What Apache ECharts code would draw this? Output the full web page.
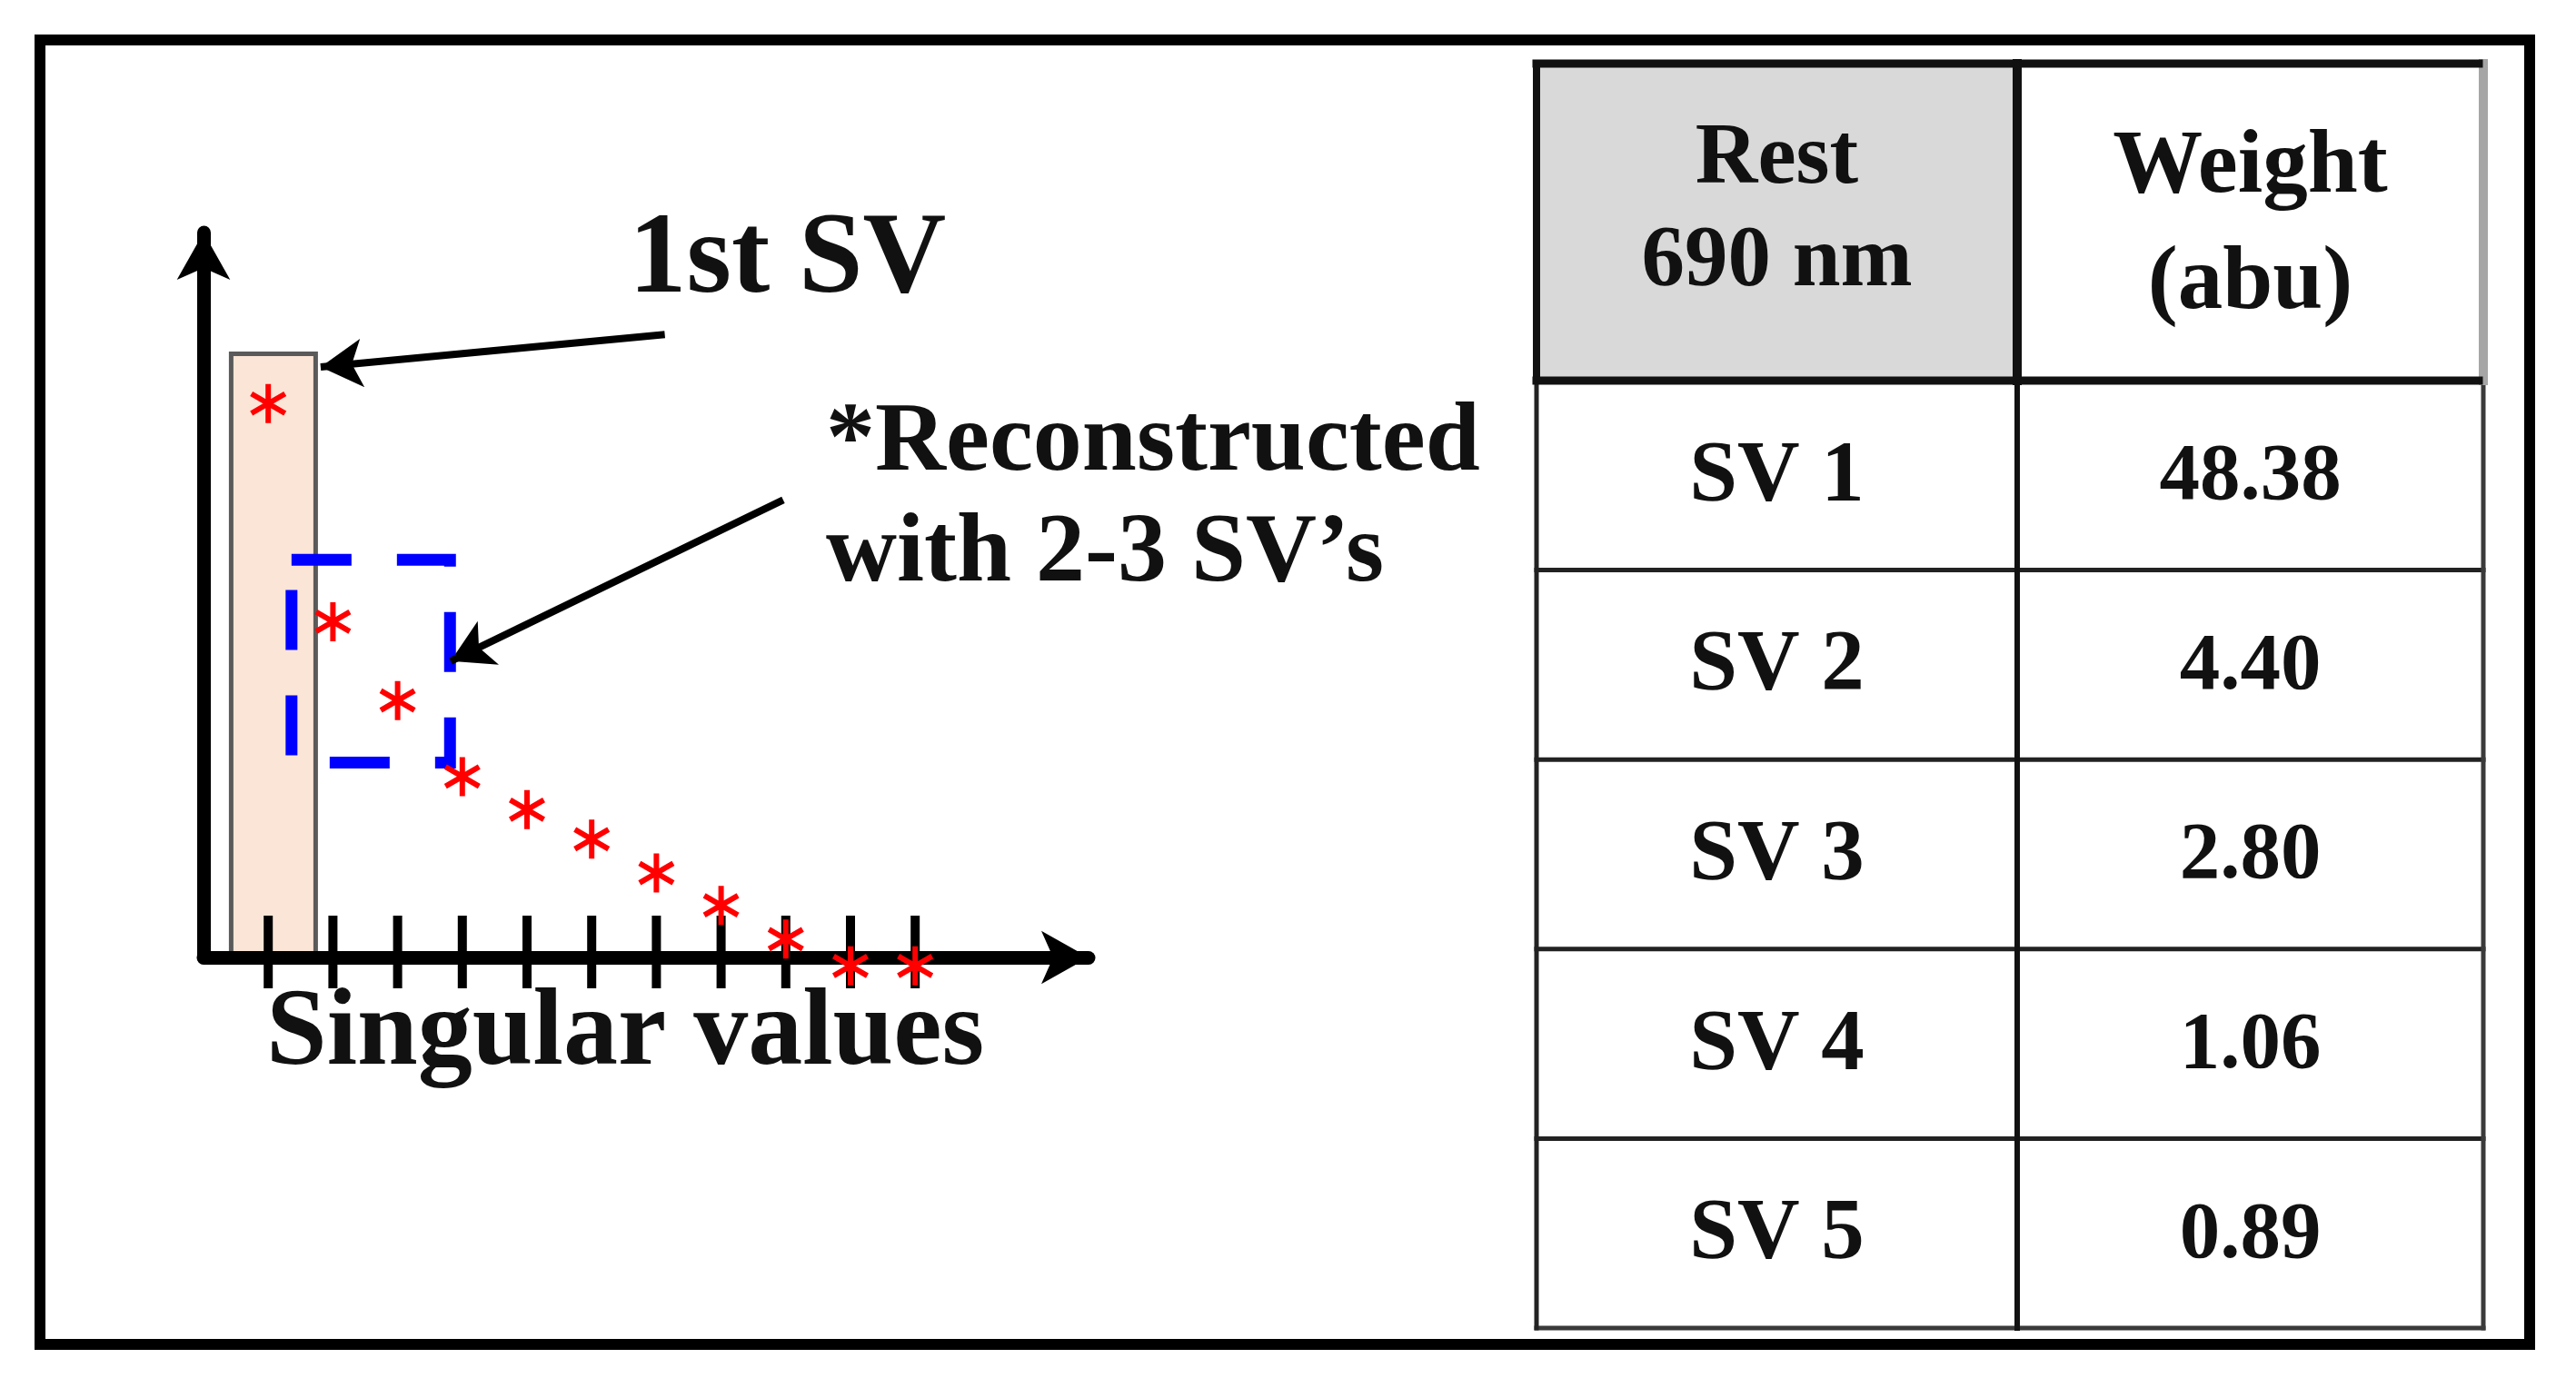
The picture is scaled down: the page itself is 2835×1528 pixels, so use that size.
<!DOCTYPE html>
<html><head><meta charset="utf-8">
<script src="https://cdn.jsdelivr.net/npm/echarts@6/dist/echarts.min.js"></script>
<style>html,body{margin:0;padding:0;background:#fff}#c{width:2835px;height:1528px}</style>
</head><body><div id="c"></div>
<script>
// ---- data (arbitrary units) ----
const svIndex = [1, 2, 3, 4, 5, 6, 7, 8, 9, 10, 11];
const svMagnitude = [78.7, 47.7, 36.5, 25.7, 21.0, 16.8, 12.0, 7.4, 2.6, -1.2, -1.2];
const firstSvBar = [[1.08, 86.1]];
const tickPositions = [1, 2, 3, 4, 5, 6, 7, 8, 9, 10, 11];
const highlightBox = [[1.36, 56.5], [3.81, 27.7]];
const arrowFirst = [[7.13, 88.5], [1.81, 83.9]];
const arrowRecon = [[8.96, 65.0], [3.82, 42.1]];
const tableHeader = [['Rest', '690 nm'], ['Weight', '(abu)']];
const tableRows = ['SV 1', 'SV 2', 'SV 3', 'SV 4', 'SV 5'];
const tableWeights = ['48.38', '4.40', '2.80', '1.06', '0.89'];

const FONT = '"Liberation Serif", "Times New Roman", serif';
const starPath = 'path://M-0.14,-1L0.14,-1L0.14,1L-0.14,1Z' +
  'M0.936,0.379L0.796,0.621L-0.936,-0.379L-0.796,-0.621Z' +
  'M0.796,-0.621L0.936,-0.379L-0.796,0.621L-0.936,0.379Z';

function txt(text, x, y, size, align) {
  return { type: 'text', z: 10, silent: true, style: {
    text: text, x: x, y: y, font: 'bold ' + size + 'px ' + FONT, fill: '#111',
    align: align, textAlign: align, verticalAlign: 'middle', textVerticalAlign: 'middle' } };
}
function ln(x1, y1, x2, y2, w, c) {
  return { type: 'line', z: 10, silent: true, shape: { x1: x1, y1: y1, x2: x2, y2: y2 },
    style: { stroke: c, lineWidth: w, lineCap: 'square' } };
}

// table layout
const tL = 1691, tM = 2220, tR = 2733, tT = 70, tH = 419, tB = 1462;
const rowH = (tB - tH) / tableRows.length;
const c1 = (tL + tM) / 2, c2 = (tM + tR) / 2;
const g = [];
g.push({ type: 'rect', z: 9, silent: true, shape: { x: 44, y: 44, width: 2740, height: 1436 },
  style: { fill: 'transparent', stroke: '#000', lineWidth: 12 } });
g.push({ type: 'rect', z: 9, silent: true, shape: { x: tL, y: tT, width: tM - tL, height: tH - tT },
  style: { fill: '#d9d9d9' } });
// body lines
for (let i = 1; i < tableRows.length; i++) g.push(ln(tL, tH + i * rowH, tR, tH + i * rowH, 5, '#222'));
g.push(ln(tL, tB, tR, tB, 5, '#3a3a3a'));
g.push(ln(tL, tH, tL, tB, 5, '#222'));
g.push(ln(tR, tH, tR, tB, 5, '#3a3a3a'));
g.push(ln(tM, tH, tM, tB, 6, '#111'));
// header lines
g.push(ln(tR, tT, tR, tH, 10, '#a6a6a6'));
g.push(ln(tL, tT, tR - 5, tT, 9, '#111'));
g.push(ln(tL, tT, tL, tH, 8, '#111'));
g.push(ln(tL, tH, tR - 5, tH, 9, '#111'));
g.push(ln(tM, tT, tM, tH, 10, '#111'));
// header text
g.push(txt(tableHeader[0][0], c1, 176, 95, 'center'));
g.push(txt(tableHeader[0][1], c1, 289, 95, 'center'));
g.push(txt(tableHeader[1][0], c2, 185, 99, 'center'));
g.push(txt(tableHeader[1][1], c2, 313, 99, 'center'));
tableRows.forEach(function (r, i) {
  const cy = tH + (i + 0.5) * rowH + 3;
  g.push(txt(r, c1, cy, 95, 'center'));
  g.push(txt(tableWeights[i], c2, cy, 89, 'center'));
});
// chart annotations
g.push(txt('1st SV', 692, 288, 127, 'left'));
g.push(txt('*Reconstructed', 909, 489, 108, 'left'));
g.push(txt('with 2-3 SV\u2019s', 909, 611, 108, 'left'));
g.push(txt('Singular values', 293, 1140, 120, 'left'));

const axisCommon = {
  type: 'value', min: 0, z: 4,
  axisLine: { show: true, onZero: true, symbol: ['none', 'arrow'], symbolSize: [44, 52],
    lineStyle: { color: '#000', width: 15 } },
  axisTick: { show: false }, axisLabel: { show: false }, splitLine: { show: false }
};

const chart = echarts.init(document.getElementById('c'), null, { renderer: 'canvas' });
chart.setOption({
  animation: false,
  backgroundColor: '#fff',
  grid: { left: 224, right: 2835 - 1198, top: 256, bottom: 474 },
  xAxis: Object.assign({}, axisCommon, { max: 13.68 }),
  yAxis: Object.assign({}, axisCommon, { max: 103.0 }),
  graphic: g,
  series: [
    { type: 'bar', data: firstSvBar, barWidth: 98, z: 2, silent: true,
      itemStyle: { color: '#fbe5d6', borderColor: '#5a5a5a', borderWidth: 5, opacity: 1 } },
    { type: 'scatter', data: tickPositions.map(function (v) { return [v, 0]; }), clip: false, z: 5,
      symbol: 'rect', symbolSize: [10, 80], symbolOffset: [0, -6], silent: true,
      itemStyle: { color: '#000', opacity: 1 } },
    { type: 'scatter', data: svIndex.map(function (x, i) { return [x, svMagnitude[i]]; }),
      clip: false, z: 7, symbol: starPath, symbolSize: [40, 43], silent: true,
      itemStyle: { color: '#ff0000', opacity: 1 },
      markArea: { silent: true, z: 4, label: { show: false },
        itemStyle: { color: 'rgba(0,0,0,0)', borderColor: '#0000ff', borderWidth: 13, borderType: [66, 50], opacity: 1 },
        data: [[{ coord: highlightBox[0] }, { coord: highlightBox[1] }]] },
      markLine: { silent: true, z: 5, symbol: ['none', 'arrow'], symbolSize: [40, 46],
        label: { show: false }, lineStyle: { color: '#000', width: 8, type: 'solid', opacity: 1 },
        emphasis: { disabled: true },
        data: [
          [{ coord: arrowFirst[0] }, { coord: arrowFirst[1] }],
          [{ coord: arrowRecon[0] }, { coord: arrowRecon[1] }]
        ] } }
  ]
});
</script></body></html>
